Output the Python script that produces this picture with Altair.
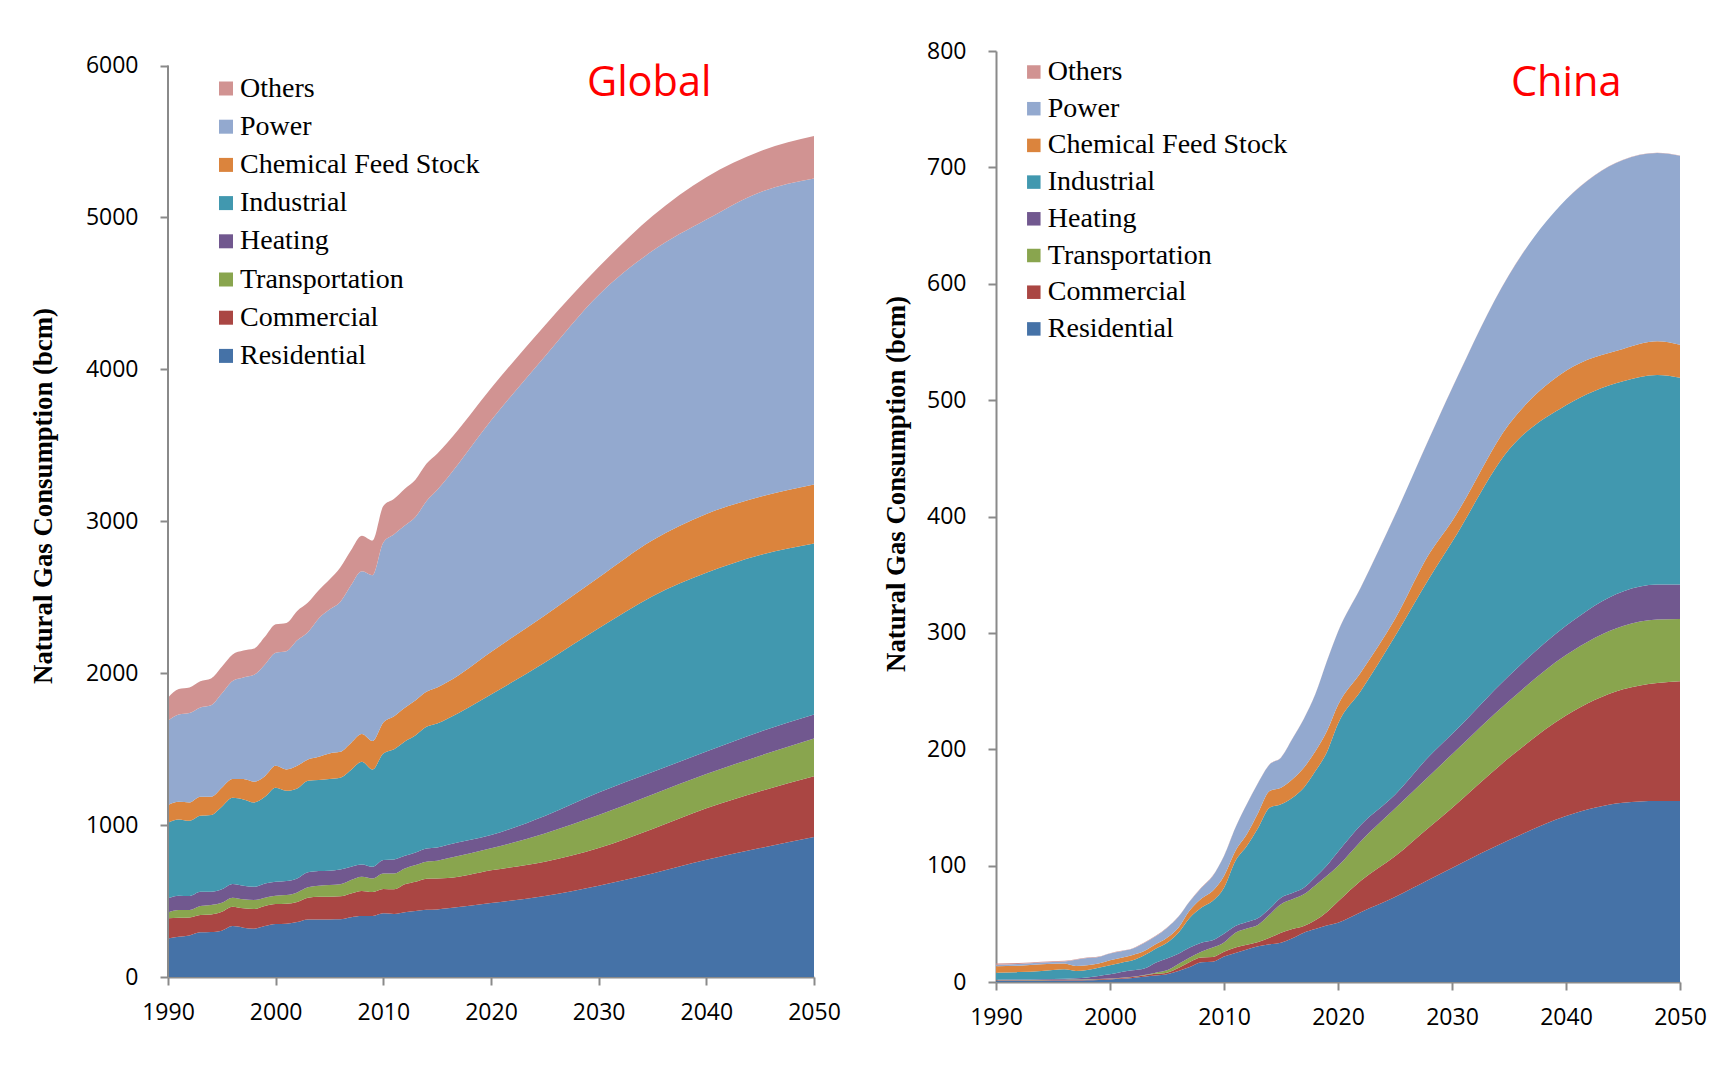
import altair as alt
import pandas as pd

# ---------------- categories / colours ----------------
legend_order = ["Others", "Power", "Chemical Feed Stock", "Industrial",
                "Heating", "Transportation", "Commercial", "Residential"]
legend_colors = ["#D19392", "#93A9CF", "#DB843D", "#4198AF",
                 "#71588F", "#89A54E", "#AA4643", "#4572A7"]
stack_order = ["Residential", "Commercial", "Transportation", "Heating",
               "Industrial", "Chemical Feed Stock", "Power", "Others"]

# ---------------- Global: upper edge of each stacked band (bcm) ----------------
g_years = list(range(1990, 2017)) + [2020, 2025, 2030, 2035, 2040, 2045, 2050]
g_res = [254, 265, 274, 294, 296, 305, 335, 325, 318, 335, 349, 351, 362, 379, 379, 379, 380,
         393, 401, 401, 419, 415, 426, 434, 443, 445, 452, 487, 534, 601, 682, 772, 849, 921]
g_comm = [386, 390, 392, 408, 412, 430, 463, 452, 447, 467, 480, 482, 493, 522, 528, 528, 531,
          550, 566, 559, 579, 577, 610, 627, 647, 649, 651, 702, 759, 849, 975, 1110, 1223, 1322]
g_trans = [425, 441, 441, 467, 474, 489, 522, 511, 507, 522, 535, 539, 557, 590, 601, 605, 610,
           638, 660, 649, 682, 682, 715, 737, 759, 765, 781, 847, 945, 1066, 1201, 1336, 1457, 1570]
g_heat = [518, 535, 533, 561, 561, 577, 612, 601, 594, 616, 627, 632, 649, 689, 697, 700, 708,
          726, 741, 726, 770, 774, 798, 820, 846, 853, 871, 934, 1060, 1214, 1349, 1484, 1615, 1728]
g_ind = [1015, 1037, 1028, 1061, 1066, 1121, 1180, 1169, 1149, 1186, 1246, 1226, 1241, 1292, 1296,
         1303, 1311, 1362, 1417, 1366, 1472, 1500, 1551, 1592, 1647, 1669, 1702, 1860, 2070, 2295,
         2507, 2661, 2778, 2854]
g_chem = [1132, 1153, 1149, 1186, 1186, 1246, 1303, 1303, 1285, 1322, 1390, 1366, 1390, 1432, 1450,
          1472, 1482, 1541, 1599, 1553, 1675, 1717, 1772, 1822, 1877, 1906, 1943, 2140, 2380, 2630,
          2875, 3048, 3161, 3242]
g_power = [1686, 1728, 1737, 1774, 1789, 1866, 1949, 1972, 1989, 2057, 2134, 2145, 2217, 2270, 2360,
           2419, 2469, 2579, 2671, 2645, 2860, 2915, 2972, 3030, 3132, 3205, 3290, 3663, 4085, 4490,
           4780, 4986, 5166, 5256]
g_others = [1838, 1895, 1906, 1947, 1965, 2042, 2123, 2149, 2162, 2239, 2322, 2331, 2410, 2465, 2546,
            2616, 2696, 2809, 2905, 2873, 3100, 3148, 3214, 3275, 3378, 3444, 3521, 3875, 4289, 4673,
            5010, 5265, 5436, 5536]

# ---------------- China: upper edge of each stacked band (bcm) ----------------
c_years = [1990, 1992, 1994, 1996] + list(range(1997, 2021)) + [2022, 2025, 2028, 2030, 2035, 2040, 2045, 2048, 2050]
c_res = [0.8, 0.9, 1.0, 1.2, 1.3, 1.5, 1.8, 2.2, 2.8, 3.5, 4.5, 5.5, 6.6, 9.5, 12.9, 17, 17.5, 22, 25,
         28, 30.8, 32.5, 33.8, 37.5, 42.4, 45.5, 48.5, 51, 60, 73, 88, 98, 122, 142.6, 154, 155.5, 155.5]
c_comm = [1.2, 1.3, 1.5, 1.7, 1.8, 2.0, 2.3, 2.8, 3.5, 4.3, 5.5, 7.0, 8.0, 12.0, 17.2, 21.0, 21.5, 26,
          29.6, 32, 34.4, 38, 42.4, 45.5, 48.1, 53, 60, 69.2, 87, 108, 133, 149.6, 192.6, 229, 251.5, 257, 258.5]
c_trans = [1.5, 1.6, 1.8, 2.0, 2.1, 2.3, 2.6, 3.1, 3.7, 4.6, 6.0, 8.0, 10.0, 15.5, 21, 26, 29.6, 34,
           42.4, 46, 49.3, 58, 66.8, 71, 75.3, 83, 91, 99.7, 121, 149, 177, 195.6, 241.4, 281, 306, 311.5, 312]
c_heat = [2.0, 2.1, 2.4, 2.7, 3.2, 3.8, 5.2, 6.6, 8.6, 10, 11.5, 16.6, 20.3, 24.3, 29.6, 33.8, 35.9,
          41.5, 48.1, 51.5, 55, 63, 72.5, 76.5, 81, 90, 100, 112, 135, 161, 194, 213, 263.2, 306.2,
          335.6, 341.5, 341.5]
c_ind = [8.0, 8.5, 9.5, 10.9, 9.5, 10.3, 12.3, 14.3, 16.6, 18.6, 22.9, 28.6, 33.8, 42.4, 55.3, 63.8,
         69.6, 81, 104, 116.9, 132.6, 149.8, 152.7, 158.4, 167, 181, 197, 222, 250, 297, 347, 378,
         457.5, 495.7, 516.3, 521.6, 519.3]
c_chem = [13.5, 14.0, 15.2, 15.8, 13.7, 14.3, 15.8, 18.6, 20.9, 23.2, 26.6, 32.4, 38.1, 46.7, 61.6,
          71.6, 78.2, 91.1, 112.6, 126.9, 145.5, 164.1, 167, 174.2, 184.2, 198, 215, 238, 266, 312,
          368, 396, 479.2, 525.2, 544, 550.5, 547.5]
c_power = [14.8, 15.5, 16.8, 17.6, 19.2, 20.6, 21.5, 24.4, 26.4, 28.7, 33.6, 39.3, 46.5, 56, 69.4,
           80.8, 90.9, 108.2, 132.6, 152.7, 171.3, 187, 192.8, 209, 226, 247, 275, 301, 339, 401, 467,
           510, 607.6, 672.3, 706.4, 712.3, 710]
c_others = [15.8, 16.3, 17.5, 18.2, 19.6, 21.0, 21.9, 24.8, 26.8, 29.1, 34.0, 39.7, 46.9, 56.3, 69.7,
            81.1, 91.2, 108.5, 132.8, 152.9, 171.5, 187.2, 193, 209.2, 226.2, 247.2, 275.2, 301.2,
            339.2, 401.2, 467.2, 510.2, 607.8, 672.5, 706.6, 712.5, 710.2]

x_ticks = [1990, 2000, 2010, 2020, 2030, 2040, 2050]
g_ticks = [0, 1000, 2000, 3000, 4000, 5000, 6000]
c_ticks = [0, 100, 200, 300, 400, 500, 600, 700, 800]

AXIS_GRAY = "#8A8A8A"
Y_TITLE = "Natural Gas Consumption (bcm)"


def band_table(years, tops):
    rows = []
    prev = [0] * len(years)
    for name, top in zip(stack_order, tops):
        for yr, lo, hi in zip(years, prev, top):
            rows.append({"year": yr, "series": name, "lo": lo, "hi": hi})
        prev = top
    return pd.DataFrame(rows)


g_df = band_table(g_years, [g_res, g_comm, g_trans, g_heat, g_ind, g_chem, g_power, g_others])
c_df = band_table(c_years, [c_res, c_comm, c_trans, c_heat, c_ind, c_chem, c_power, c_others])


def areas(df, ydomain, yticks, ydomain_line, title_pad, title_y,
          leg_x, leg_y, sym, leg_off, row_pad):
    return alt.Chart(df).mark_area(interpolate="monotone").encode(
        x=alt.X("year:Q",
                scale=alt.Scale(domain=[1990, 2050], nice=False, zero=False),
                axis=alt.Axis(values=x_ticks, format="d", title=None, labelFlush=False,
                              labelPadding=16)),
        y=alt.Y("hi:Q", stack=None,
                scale=alt.Scale(domain=ydomain, nice=False),
                axis=alt.Axis(values=yticks, format="d", title=Y_TITLE, domain=ydomain_line,
                              labelPadding=22, titlePadding=title_pad, titleY=title_y,
                              titleFontSize=26.8)),
        y2="lo:Q",
        color=alt.Color("series:N",
                        scale=alt.Scale(domain=legend_order, range=legend_colors),
                        legend=alt.Legend(title=None, orient="none", legendX=leg_x, legendY=leg_y,
                                          symbolType="square", symbolSize=sym * sym,
                                          symbolStrokeWidth=0, labelFont="Liberation Serif",
                                          labelFontSize=28, labelColor="black", labelLimit=500,
                                          labelOffset=leg_off, rowPadding=row_pad, padding=0)),
    )


def panel_title(text, xpos):
    return alt.Chart(pd.DataFrame({"t": [text]})).mark_text(
        align="right", baseline="alphabetic", font="Open Sans", fontSize=41.5, color="#FF0000"
    ).encode(text="t:N", x=alt.value(xpos), y=alt.value(45))


# ---- Global panel: plot spans 0..6095.5 so that 6000 sits 15 px under China's top ----
g_area = areas(g_df, [0, 6095.5], g_ticks, False, 27.5, 444.5, 44, 23.5, 14, 0, 10.2)
g_axis_df = pd.DataFrame({"year": [1990], "lo": [0], "hi": [6000]})
g_axis = alt.Chart(g_axis_df).mark_rule(color=AXIS_GRAY, strokeWidth=2).encode(
    x="year:Q", y="lo:Q", y2="hi:Q")
g_chart = alt.layer(g_area, g_axis, panel_title("Global", 543.5)).properties(width=646, height=926)

# ---- China panel ----
c_area = areas(c_df, [0, 800], c_ticks, True, 16, 432.5, 23.8, 7, 13.5, 0, 8.7)
c_chart = alt.layer(c_area, panel_title("China", 625.5)).properties(width=684, height=931)

chart = alt.hconcat(g_chart, c_chart, spacing=182, bounds="flush").resolve_scale(
    x="independent", y="independent", color="independent"
).resolve_legend(color="independent").properties(
    padding={"left": 22, "top": 32, "right": 0, "bottom": 5}
).configure_view(strokeWidth=0).configure_axis(
    grid=False, domainColor=AXIS_GRAY, domainWidth=2, tickColor=AXIS_GRAY, tickWidth=2, tickSize=8,
    labelFont="Open Sans", labelFontSize=23, labelColor="black",
    titleFont="Liberation Serif", titleFontWeight="bold", titleColor="black",
)

chart.save("out.html", embed_options={"renderer": "svg", "actions": False})
